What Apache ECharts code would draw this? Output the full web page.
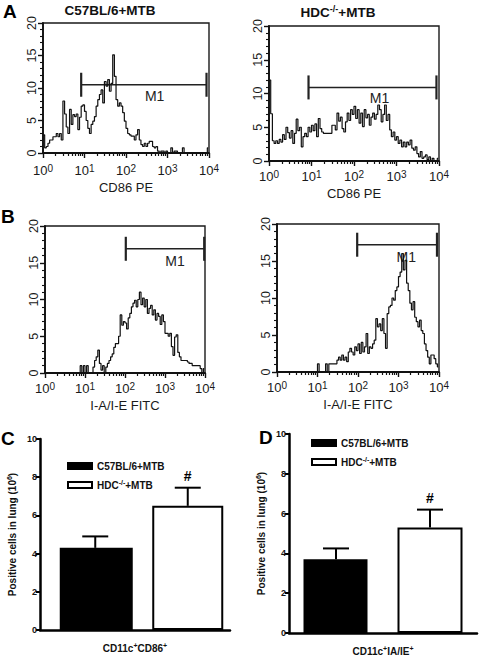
<!DOCTYPE html>
<html><head><meta charset="utf-8">
<script src="https://cdn.jsdelivr.net/npm/echarts@6/dist/echarts.min.js"></script>
<style>html,body{margin:0;padding:0;background:#fff}#c{width:480px;height:657px}</style>
</head><body><div id="c"></div>
<script>
// ---------- DATA ----------
// histogram counts, 100 bins of 0.04 decade from 10^0 to 10^4
const histA1 = [2.8,0.8,1,1.5,2,2,2.5,2.5,3,2.5,
 3,2,8,6,4,3,6.7,4.4,5.9,5.6,
 6,3.6,5.5,7.2,7.4,6.4,5,3.8,3,4.4,
 4.9,5.6,7.2,8.2,9,9.7,7.7,11,10.3,11.3,
 9.5,10.7,15.1,11.8,8.2,7.2,7.7,7.2,6.2,4.9,
 3.8,3,2.8,2.6,2.6,2,2.8,3.6,2,1.3,
 1,1.5,1,1.5,1.8,1.8,1,0.8,1,0.3,
 0,0.3,0.3,0,0.3,0,0,0.8,0,0.3,
 0.3,0,0,0,0.8,0,0,0,0,0,
 0,0,0,0,0,0,0,0,0,0.8];
const histA2 = [12,7,3,2.6,3,2.6,3.2,2.8,3.9,3.2,
 5,4.2,3.4,4.5,2.6,4.1,6.2,4.5,5,2.1,
 3.6,4.1,3.6,5,4.3,5.3,4.5,5.5,3.6,6.3,
 4.8,4.3,4.1,4.1,4.1,4.1,4.1,5.3,5.3,4.6,
 7.1,5.9,6.5,4.8,4.3,5.8,7.1,6,7.6,6.9,
 8.1,6.3,7.6,5.6,7.1,5.1,7.6,6.4,6.9,5.3,
 6.5,7.1,6.2,6.9,8.3,7.6,5.8,6.9,8.3,6,
 6.9,4.6,3.6,4.3,3.1,3.6,2.6,3.1,2.1,2.8,
 2.1,2.8,2.4,3.1,1.9,1.6,2.1,1.1,0.6,1.4,
 0.4,0.6,0.9,0.2,0.6,0,0.4,0,0,0.4];
const histB1 = [0,0,0,0,0,0,0,0,0,0,
 0,0,0,0,0,0,0,0,0,0,
 0,0,1,0,1,0,1,0,0,0,
 0.8,1.7,2.2,3.1,1.3,0.4,1,0,0.8,1.3,
 1.7,2.2,2.6,3.5,4,4,5,7.9,6.5,7,
 6.8,6,7.5,8.1,9,9.5,9.9,9,10,11,
 9.3,10.2,9,10,8.1,8.8,9.2,7.9,8.6,7.2,
 8.1,7.7,6.6,7.9,7,5.4,5.4,5,5.4,3.6,
 2.4,4.9,5.2,2.8,2.2,1.7,1.7,1.7,1.7,1.5,
 1.3,1.3,1,1,1,1,1,0.6,0,0.6];
const histB2 = [0,0,0,0,0,0,0,0,0,0,
 0,0,0,0,0,0,0,0,0,0,
 0,0,0,0,0,1.1,0,0,0,0,
 1.1,0,1.1,1.1,1.1,1.1,1.1,1.6,2,1.6,
 2.3,1.6,2,1.4,2.7,3.2,2.7,2.3,3.4,2.9,
 3.8,2.5,4,2.7,3.4,5.2,2.5,3.4,3.2,3.8,
 4.3,7.2,6.1,6.5,5.6,7.2,5.2,3.2,7.9,8.8,
 9,10,9.7,11,11.5,12.9,13.5,16,13.8,15.1,
 12,11,9.3,8.4,9.5,7.4,6.8,6.1,7,5.6,
 5.2,3.8,2.9,2,1.1,2.3,2.3,1.8,1.1,0.7];
const binWidthDecades = 0.04;
const decadeExponents = [0, 1, 2, 3, 4];
const minorMultipliers = [2, 3, 4, 5, 6, 7, 8, 9];
const histXNames = ['CD86 PE', 'CD86 PE', 'I-A/I-E FITC', 'I-A/I-E FITC'];
// M1 gates (log10 units) and level (count)
const gateStart = [0.92, 0.93, 2.02, 1.98];
const gateEnd = [3.94, 3.94, 3.98, 3.95];
const gateLevel = [10.5, 10.9, 16.9, 17.2];
const gateLabelX = [2.69, 2.6, 3.25, 3.19];
const gateLabelY = [8.7, 9.3, 15.2, 15.5];

const groups = ['C57BL/6+MTB', 'HDC-/-+MTB'];
const meansC = [4.3, 6.5];
const errC = [0.6, 0.95];
const meansD = [3.7, 5.3];
const errD = [0.55, 0.9];
const sigMarks = ['', '#'];

// ---------- LAYOUT ----------
const FONT = 'Liberation Sans, Arial, sans-serif';
const histGrids = [
  {left: 43, top: 23, width: 166, height: 130},
  {left: 269, top: 26, width: 170, height: 135},
  {left: 45, top: 226, width: 160, height: 147},
  {left: 277, top: 224, width: 162, height: 148}
];
const histLabelMargin = [10, 8, 8, 8];
const histNameGap = [28, 26, 26, 26];
// axis frames of the bar charts, and the band where the bars sit
const barAxisGrids = [
  {left: 40, top: 439, width: 190, height: 191},
  {left: 289, top: 434, width: 188, height: 199}
];
const barBandGrids = [
  {left: 49, top: 439, width: 185, height: 191},
  {left: 289, top: 434, width: 188, height: 199}
];
const minorVals = [];
decadeExponents.slice(0, 4).forEach(e => minorMultipliers.forEach(m => minorVals.push(e + Math.log10(m))));

const grid = [], xAxis = [], yAxis = [], series = [];
const supRich = {
  b: {fontSize: 13, fontFamily: FONT, color: '#1a1a1a', lineHeight: 15},
  s: {fontSize: 10, fontFamily: FONT, color: '#1a1a1a', verticalAlign: 'top', lineHeight: 10}
};
histGrids.forEach((g, i) => {
  grid.push(Object.assign({show: true, borderColor: '#1a1a1a', borderWidth: 1.4, backgroundColor: 'transparent'}, g));
  xAxis.push({
    type: 'value', gridIndex: i, min: 0, max: 4, interval: 1,
    axisLine: {lineStyle: {color: '#111', width: 1.8}},
    axisTick: {length: 5, lineStyle: {color: '#111', width: 1.4}},
    axisLabel: {margin: histLabelMargin[i], formatter: v => '{b|10}{s|' + v + '}', rich: supRich},
    splitLine: {show: false},
    name: histXNames[i], nameLocation: 'middle', nameGap: histNameGap[i],
    nameTextStyle: {fontSize: 13, fontFamily: FONT, color: '#1a1a1a'}
  });
  xAxis.push({
    type: 'value', gridIndex: i, min: 0, max: 4, position: 'bottom',
    axisLine: {show: false}, axisLabel: {show: false}, splitLine: {show: false},
    axisTick: {show: true, customValues: minorVals, length: 3, lineStyle: {color: '#111', width: 1.2}}
  });
  yAxis.push({
    type: 'value', gridIndex: i, min: 0, max: 20, interval: 5,
    axisLine: {show: true, lineStyle: {color: '#111', width: 1.8}},
    axisTick: {show: true, length: 5, lineStyle: {color: '#111', width: 1.4}},
    minorTick: {show: true, splitNumber: 5, length: 3, lineStyle: {color: '#111', width: 1.1}},
    axisLabel: {rotate: 90, margin: 5, fontSize: 12.5, fontFamily: FONT, color: '#1a1a1a'},
    splitLine: {show: false}
  });
});
const hists = [histA1, histA2, histB1, histB2];
hists.forEach((h, i) => {
  series.push({
    type: 'line', xAxisIndex: i * 2, yAxisIndex: i, step: 'middle', symbol: 'none',
    silent: true, animation: false,
    lineStyle: {color: '#111', width: 1.2},
    data: h.map((v, k) => [(k + 0.5) * binWidthDecades, v])
  });
  series.push({
    type: 'custom', xAxisIndex: i * 2, yAxisIndex: i, silent: true, animation: false,
    data: [[gateStart[i], gateEnd[i], gateLevel[i], gateLabelX[i], gateLabelY[i]]],
    renderItem: (params, api) => {
      const p1 = api.coord([api.value(0), api.value(2)]);
      const p2 = api.coord([api.value(1), api.value(2)]);
      const pl = api.coord([api.value(3), api.value(4)]);
      const h2 = 12;
      return {type: 'group', children: [
        {type: 'line', shape: {x1: p1[0], y1: p1[1], x2: p2[0], y2: p2[1]}, style: {stroke: '#222', lineWidth: 1.4}},
        {type: 'line', shape: {x1: p1[0], y1: p1[1] - h2, x2: p1[0], y2: p1[1] + h2}, style: {stroke: '#222', lineWidth: 2.2}},
        {type: 'line', shape: {x1: p2[0], y1: p2[1] - h2, x2: p2[0], y2: p2[1] + h2}, style: {stroke: '#222', lineWidth: 2.2}},
        {type: 'text', x: pl[0], y: pl[1], style: {text: 'M1', fill: '#222', fontSize: 14, fontFamily: FONT, align: 'center', verticalAlign: 'middle'}}
      ]};
    }
  });
});

// bar charts
const barData = [[meansC, errC, 'CD11c', 'CD86'], [meansD, errD, 'CD11c', 'IA/IE']];
const legendRich = {
  b: {fontSize: 10, fontWeight: 'bold', fontFamily: FONT, color: '#111', lineHeight: 12},
  s: {fontSize: 7, fontWeight: 'bold', fontFamily: FONT, color: '#111', verticalAlign: 'top', lineHeight: 7}
};
barAxisGrids.forEach((g, j) => {
  const bd = barData[j];
  // frame grid: visible axes
  grid.push(Object.assign({show: false}, g));
  const gAxis = grid.length - 1;
  xAxis.push({
    type: 'category', gridIndex: gAxis, data: groups,
    axisLine: {lineStyle: {color: '#000', width: 2.5}},
    axisTick: {show: false}, axisLabel: {show: false},
    name: '{b|' + bd[2] + '}{s|+}{b|' + bd[3] + '}{s|+}', nameLocation: 'middle', nameGap: 12,
    nameTextStyle: {rich: legendRich}
  });
  yAxis.push({
    type: 'value', gridIndex: gAxis, min: 0, max: 10, interval: 2,
    axisLine: {show: true, lineStyle: {color: '#000', width: 2.5}},
    axisTick: {show: true, length: 4, lineStyle: {color: '#000', width: 2}},
    axisLabel: {fontSize: 9, fontWeight: 'bold', fontFamily: FONT, color: '#111', margin: 3},
    splitLine: {show: false},
    name: '{b|Positive cells in lung (10}{s|6}{b|)}', nameLocation: 'middle', nameGap: 22, nameRotate: 90,
    nameTextStyle: {rich: legendRich}
  });
  // band grid: bars, same value scale, hidden axes
  grid.push(Object.assign({show: false}, barBandGrids[j]));
  const gBand = grid.length - 1;
  xAxis.push({type: 'category', gridIndex: gBand, data: groups, show: false});
  yAxis.push({type: 'value', gridIndex: gBand, min: 0, max: 10, interval: 2, show: false, splitLine: {show: false}});
  const xi = xAxis.length - 1, yi = yAxis.length - 1;
  series.push({
    type: 'bar', name: groups[0], xAxisIndex: xi, yAxisIndex: yi, barWidth: j === 0 ? 73 : 64, barGap: '-100%',
    itemStyle: {color: '#000', borderColor: '#000', borderWidth: 2}, animation: false,
    data: [bd[0][0], '-']
  });
  series.push({
    type: 'bar', name: groups[1], xAxisIndex: xi, yAxisIndex: yi, barWidth: j === 0 ? 71 : 65, barGap: '-100%',
    itemStyle: {color: '#fff', borderColor: '#000', borderWidth: 2}, animation: false,
    data: ['-', bd[0][1]]
  });
  series.push({
    type: 'custom', xAxisIndex: xi, yAxisIndex: yi, silent: true, animation: false, z: 5,
    data: bd[0].map((m, k) => [k, m, bd[1][k]]),
    renderItem: (params, api) => {
      const x = api.value(0), m = api.value(1), e = api.value(2);
      const base = api.coord([x, m]), top = api.coord([x, m + e]);
      const cap = 13;
      const st = {stroke: '#000', lineWidth: 2};
      const ch = [
        {type: 'line', shape: {x1: base[0], y1: base[1], x2: top[0], y2: top[1]}, style: st},
        {type: 'line', shape: {x1: top[0] - cap, y1: top[1], x2: top[0] + cap, y2: top[1]}, style: st}
      ];
      const mark = sigMarks[params.dataIndex];
      if (mark) ch.push({type: 'text', x: top[0], y: top[1] - 5, style: {text: mark, fill: '#000', fontSize: 14, fontWeight: 'bold', fontFamily: FONT, align: 'center', verticalAlign: 'bottom'}});
      return {type: 'group', children: ch};
    }
  });
});

const legendFormatter = name => name === groups[1] ? '{b|HDC}{s|-/-}{b|+MTB}' : '{b|' + name + '}';
const legend = [
  {left: 62, top: 456, orient: 'vertical', itemGap: 8, itemWidth: 24, itemHeight: 6, icon: 'rect',
   data: groups, formatter: legendFormatter, textStyle: {rich: legendRich}, selectedMode: false},
  {left: 306, top: 433, orient: 'vertical', itemGap: 8, itemWidth: 24, itemHeight: 6, icon: 'rect',
   data: groups, formatter: legendFormatter, textStyle: {rich: legendRich}, selectedMode: false}
];

const titleRich = {
  b: {fontSize: 13.5, fontWeight: 'bold', fontFamily: FONT, color: '#111', lineHeight: 16},
  s: {fontSize: 9, fontWeight: 'bold', fontFamily: FONT, color: '#111', verticalAlign: 'top', lineHeight: 9}
};
const letterStyle = {fontSize: 19, fontWeight: 'bold', fontFamily: FONT, color: '#000'};
const title = [
  {text: 'A', left: 3, top: 2, padding: 0, textStyle: letterStyle},
  {text: 'B', left: 1, top: 207, padding: 0, textStyle: letterStyle},
  {text: 'C', left: 1, top: 429, padding: 0, textStyle: letterStyle},
  {text: 'D', left: 259, top: 428, padding: 0, textStyle: letterStyle},
  {text: '{b|C57BL/6+MTB}', left: 110, top: 2, textAlign: 'center', padding: 0, textStyle: {rich: titleRich}},
  {text: '{b|HDC}{s|-/-}{b|+MTB}', left: 338, top: 4, textAlign: 'center', padding: 0, textStyle: {rich: titleRich}}
];

const chart = echarts.init(document.getElementById('c'), null, {renderer: 'svg'});
chart.setOption({animation: false, backgroundColor: '#fff', title, legend, grid, xAxis, yAxis, series});
</script></body></html>
